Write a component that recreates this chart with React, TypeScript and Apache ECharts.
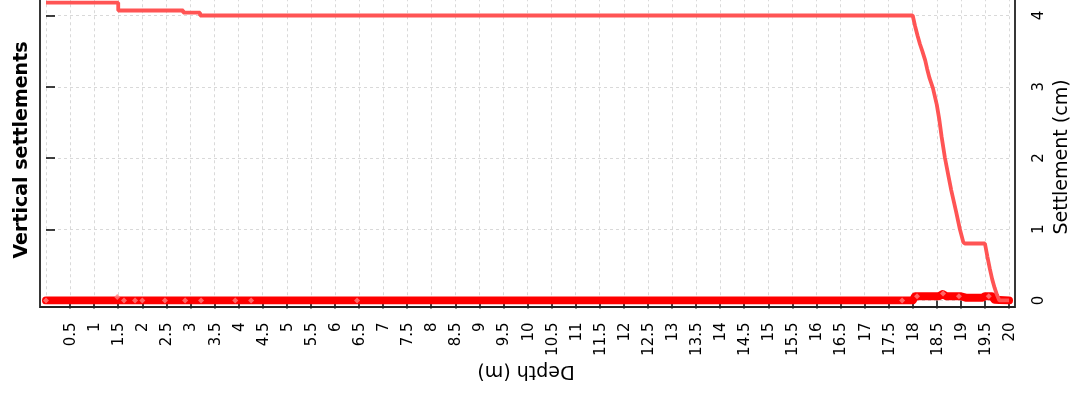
import React, { useEffect, useRef } from "react";
import * as echarts from "echarts";

// Main settlement curve (depth in m, settlement in cm)
const mainDepth = [0, 1.5, 1.5, 2.85, 2.85, 3.2, 3.2, 18.0, 18.05, 18.1, 18.15, 18.2, 18.26, 18.3, 18.35, 18.42, 18.5, 18.55, 18.6, 18.67, 18.75, 18.8, 18.9, 18.98, 19.05, 19.08, 19.5, 19.55, 19.6, 19.65, 19.7, 19.75, 19.8, 20.0];
const mainSettle = [4.18, 4.18, 4.07, 4.07, 4.04, 4.04, 4.0, 4.0, 3.85, 3.72, 3.6, 3.5, 3.37, 3.25, 3.12, 2.98, 2.75, 2.55, 2.3, 2.0, 1.72, 1.55, 1.25, 1.0, 0.82, 0.8, 0.8, 0.62, 0.45, 0.3, 0.18, 0.08, 0.0, 0.0];

// Layer settlement band near zero
const bandDepth = [0, 18.0, 18.05, 18.55, 18.62, 18.7, 19.0, 19.1, 19.45, 19.5, 19.65, 19.7, 20.0];
const bandSettle = [0, 0, 0.06, 0.06, 0.09, 0.06, 0.06, 0.04, 0.04, 0.06, 0.06, 0.01, 0];

// Point markers
const markDepth = [0, 1.48, 1.62, 1.85, 2.0, 2.47, 2.89, 3.22, 3.93, 4.26, 6.46, 17.78, 18.09, 18.63, 18.96, 19.58];
const markSettle = [0, 0.05, 0, 0, 0, 0, 0, 0, 0, 0, 0, 0, 0.06, 0.1, 0.06, 0.06];

const title = "Vertical settlements";
const xName = "Depth (m)";
const yName = "Settlement (cm)";

const zip = (a: number[], b: number[]) => a.map((v, i) => [v, b[i]]);

export default function App() {
  const ref = useRef<HTMLDivElement>(null);
  useEffect(() => {
    const chart = echarts.init(ref.current!, null, { renderer: "svg" });
    const font = '"DejaVu Sans", Verdana, sans-serif';
    const split = { show: true, lineStyle: { color: "#d9d9d9", type: [3, 3], width: 1 } };
    chart.setOption({
      animation: false,
      grid: { left: 46, right: 64, top: -55.75, bottom: 97.5, containLabel: false, outerBoundsMode: "none" },
      xAxis: {
        type: "value",
        min: 0,
        max: 20,
        interval: 0.5,
        position: "bottom",
        offset: 7,
        axisLine: { show: false },
        axisTick: { show: true, length: 8, lineStyle: { color: "#000", width: 1.5 } },
        axisLabel: { rotate: 90, margin: 15, fontSize: 15, color: "#000", fontFamily: font, showMinLabel: false },
        splitLine: split,
      },
      yAxis: {
        type: "value",
        min: 0,
        max: 5,
        interval: 1,
        position: "right",
        offset: 6,
        axisLine: { show: false },
        axisTick: { show: true, length: 9, lineStyle: { color: "#000", width: 1.5 } },
        axisLabel: { rotate: 90, margin: 15, fontSize: 15, color: "#000", fontFamily: font, showMaxLabel: false },
        splitLine: split,
      },
      series: [
        {
          type: "line",
          data: zip(bandDepth, bandSettle),
          showSymbol: false,
          lineStyle: { color: "#ff0000", width: 8, join: "round", cap: "round" },
          itemStyle: { color: "#ff0000" },
          z: 2,
        },
        {
          type: "scatter",
          data: zip(markDepth, markSettle),
          symbol: "diamond",
          symbolSize: 6,
          itemStyle: { color: "#ff7f7f" },
          z: 3,
        },
        {
          type: "line",
          data: zip(mainDepth, mainSettle),
          showSymbol: false,
          lineStyle: { color: "#ff5454", width: 3.8 },
          itemStyle: { color: "#ff5454" },
          z: 4,
        },
      ],
      graphic: [
        {
          type: "polyline",
          shape: { points: [[40, 0], [40, 307], [1015, 307], [1015, 0]] },
          style: { stroke: "#222", lineWidth: 1.8, fill: null },
          z: 10,
        },
        {
          type: "text",
          x: 20,
          y: 150,
          rotation: Math.PI / 2,
          style: { text: title, font: 'bold 19px "DejaVu Sans"', fill: "#000", align: "center", verticalAlign: "middle", textAlign: "center", textVerticalAlign: "middle" },
        },
        {
          type: "text",
          x: 1060,
          y: 157,
          rotation: Math.PI / 2,
          style: { text: yName, font: '19px "DejaVu Sans"', fill: "#000", align: "center", verticalAlign: "middle", textAlign: "center", textVerticalAlign: "middle" },
        },
        {
          type: "text",
          x: 526,
          y: 373,
          rotation: Math.PI,
          style: { text: xName, font: '19px "DejaVu Sans"', fill: "#000", align: "center", verticalAlign: "middle", textAlign: "center", textVerticalAlign: "middle" },
        },
      ],
    });
    return () => chart.dispose();
  }, []);
  return <div ref={ref} style={{ position: "fixed", left: 0, top: 0, width: 1073, height: 398 }} />;
}
